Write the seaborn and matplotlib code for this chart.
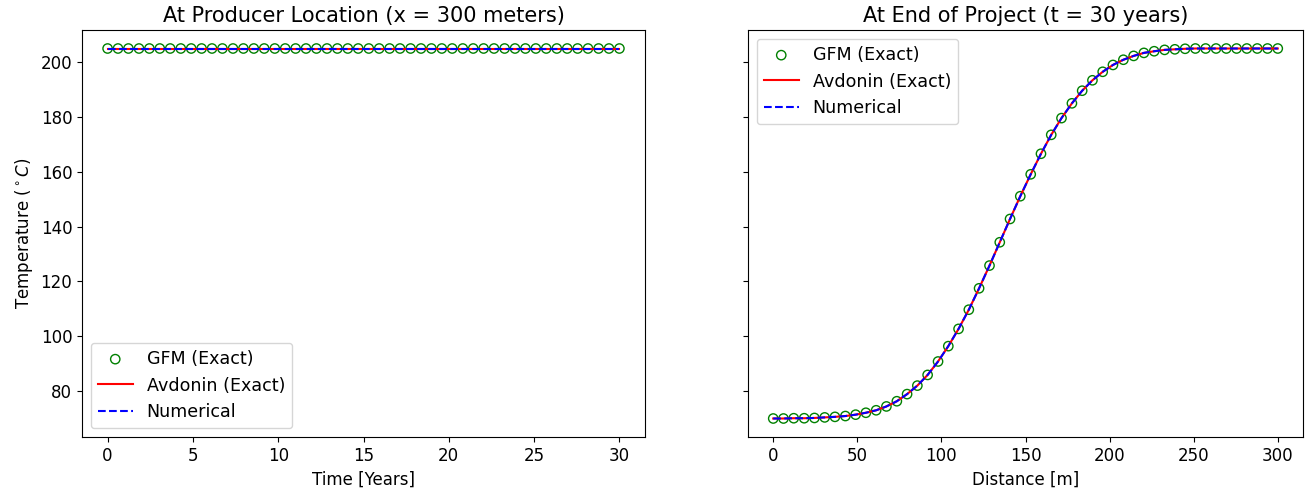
import matplotlib
matplotlib.use("Agg")
import matplotlib.pyplot as plt
import seaborn as sns
import pandas as pd

# time axis at the producer (years) and distance axis at end of project (m)
time_years = [0.0, 0.61, 1.22, 1.84, 2.45, 3.06, 3.67, 4.29, 4.9, 5.51,
              6.12, 6.73, 7.35, 7.96, 8.57, 9.18, 9.8, 10.41, 11.02, 11.63,
              12.24, 12.86, 13.47, 14.08, 14.69, 15.31, 15.92, 16.53, 17.14, 17.76,
              18.37, 18.98, 19.59, 20.2, 20.82, 21.43, 22.04, 22.65, 23.27, 23.88,
              24.49, 25.1, 25.71, 26.33, 26.94, 27.55, 28.16, 28.78, 29.39, 30.0]
temp_producer = [205.0] * 50

distance_m = [0.0, 6.1, 12.2, 18.4, 24.5, 30.6, 36.7, 42.9, 49.0, 55.1,
              61.2, 67.3, 73.5, 79.6, 85.7, 91.8, 98.0, 104.1, 110.2, 116.3,
              122.4, 128.6, 134.7, 140.8, 146.9, 153.1, 159.2, 165.3, 171.4, 177.6,
              183.7, 189.8, 195.9, 202.0, 208.2, 214.3, 220.4, 226.5, 232.7, 238.8,
              244.9, 251.0, 257.1, 263.3, 269.4, 275.5, 281.6, 287.8, 293.9, 300.0]
temp_end = [70.0, 70.0, 70.1, 70.1, 70.2, 70.4, 70.6, 70.9, 71.4, 72.1,
            73.0, 74.4, 76.3, 78.9, 82.0, 85.9, 90.8, 96.4, 102.7, 109.7,
            117.5, 125.8, 134.3, 142.8, 151.1, 159.1, 166.6, 173.5, 179.6, 185.0,
            189.6, 193.4, 196.5, 199.0, 200.9, 202.3, 203.4, 204.0, 204.5, 204.7,
            204.9, 205.0, 205.0, 205.0, 205.0, 205.0, 205.0, 205.0, 205.0, 205.0]

plt.rcParams['font.size'] = 12

df_t = pd.DataFrame({'x': time_years, 'T': temp_producer})
df_x = pd.DataFrame({'x': distance_m, 'T': temp_end})

W, H = 1309, 498
fig, axes = plt.subplots(1, 2, figsize=(W / 100, H / 100), dpi=100, sharey=True)
# axes boxes in pixels: left, bottom, width, height
axes[0].set_position([82 / W, 61 / H, 563 / W, 407 / H])
axes[1].set_position([748 / W, 61 / H, 555 / W, 407 / H])

panels = [
    (axes[0], df_t, 'At Producer Location (x = 300 meters)', 'Time [Years]', 'lower left'),
    (axes[1], df_x, 'At End of Project (t = 30 years)', 'Distance [m]', 'upper left'),
]

for ax, d, title, xlabel, loc in panels:
    sns.scatterplot(data=d, x='x', y='T', ax=ax, marker='o', s=45,
                    facecolors='none', edgecolor='green', linewidth=1.0,
                    label='GFM (Exact)')
    sns.lineplot(data=d, x='x', y='T', ax=ax, color='red', linewidth=1.5,
                 label='Avdonin (Exact)')
    sns.lineplot(data=d, x='x', y='T', ax=ax, color='blue', linestyle='--',
                 linewidth=1.5, label='Numerical')
    ax.set_title(title, fontsize=15)
    ax.set_xlabel(xlabel)
    ax.set_ylabel('Temperature ($^\\circ C$)')
    ax.legend(loc=loc, fontsize=12.6)

axes[1].yaxis.set_tick_params(labelleft=False)
axes[0].set_yticks([80, 100, 120, 140, 160, 180, 200])
axes[0].set_ylim(63.25, 211.75)

plt.savefig('out.png', dpi=100)
